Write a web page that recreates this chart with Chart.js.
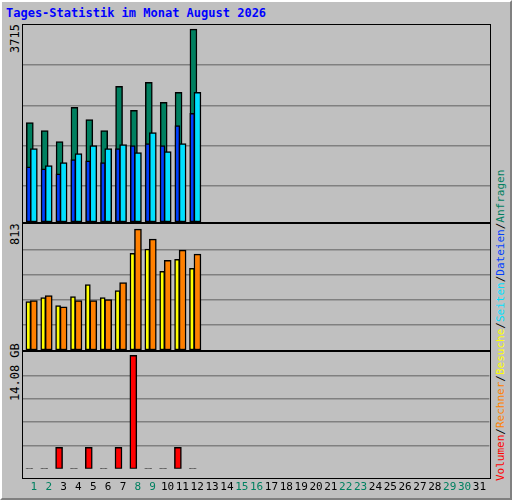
<!DOCTYPE html>
<html>
<head>
<meta charset="utf-8">
<script src="https://cdn.jsdelivr.net/npm/chart.js@4"></script>
<style>
  body { margin: 0; background: #c0c0c0; }
  #frame { position: absolute; left: 0; top: 0; width: 508px; height: 496px; background: #c0c0c0;
    border: 2px solid; border-color: #ffffff #808080 #808080 #ffffff; }
  .mono { font-family: "DejaVu Sans Mono", monospace; }
  #title { position: absolute; left: 6px; top: 6px; font-size: 12px; font-weight: bold; color: #0000ff; }
  .panel { position: absolute; left: 22px; width: 469px; border: 1px solid #000; box-sizing: border-box; }
  canvas { position: absolute; }
  .rot { position: absolute; transform: rotate(-90deg); transform-origin: left top; white-space: nowrap; font-size: 12px; }
</style>
</head>
<body>
<div id="frame"></div>
<div id="title" class="mono">Tages-Statistik im Monat August 2026</div>
<div class="panel" style="top:24px;height:199px"></div>
<div class="panel" style="top:223px;height:128px"></div>
<div class="panel" style="top:351px;height:128px"></div>
<div class="rot mono" style="left:8px;top:53px">3715</div>
<div class="rot mono" style="left:8px;top:245px">813</div>
<div class="rot mono" style="left:8px;top:401px">14.08 GB</div>
<div class="rot mono" style="left:494px;top:481px;font-size:11px">
  <span style="color:#ff0000">Volumen</span>/<span style="color:#ff8000">Rechner</span>/<span style="color:#ffff00">Besuche</span>/<span style="color:#00e0ff">Seiten</span>/<span style="color:#0040ff">Dateien</span>/<span style="color:#008060">Anfragen</span>
</div>
<canvas id="c1" style="left:23px;top:25px;width:467px;height:197px"></canvas>
<canvas id="c2" style="left:23px;top:224px;width:467px;height:126px"></canvas>
<canvas id="c3" style="left:23px;top:352px;width:467px;height:146px"></canvas>
<script>
const days = [1,2,3,4,5,6,7,8,9,10,11,12];
const allDays = Array.from({ length: 31 }, (_, i) => i + 1);
const weekend = [1,2,8,9,15,16,22,23,29,30];

const anfragen = [1916,1761,1548,2206,1974,1761,2612,2148,2690,2303,2496,3715];
const dateien  = [1064,1025,929,1200,1180,1142,1413,1471,1510,1471,1858,2090];
const seiten   = [1413,1084,1142,1316,1471,1413,1490,1335,1722,1355,1510,2496];
const besuche  = [325,352,298,359,440,352,400,650,678,529,610,549];
const rechner  = [332,366,291,332,332,339,454,813,745,603,671,644];
const volumen  = [0.02,0.02,2.65,0.02,2.65,0.02,2.65,14.08,0.02,0.02,2.65,0.02];

const xmin = 0.27, xmax = 31.67;
const pts = (vals, off) => vals.map((v, i) => ({ x: days[i] + off, y: v }));
const bar = (label, data, color, w, order) => ({
  label, data, backgroundColor: color, borderColor: "#000", borderWidth: 1.5,
  barThickness: w, grouped: false, order, borderSkipped: false,
});

function opts(ymax, gridVals, showX) {
  return {
    responsive: false, animation: false, devicePixelRatio: 1,
    layout: { padding: 0 },
    plugins: { legend: { display: false }, tooltip: { enabled: false } },
    scales: {
      x: {
        type: "linear", min: xmin, max: xmax, display: showX, offset: false,
        grid: { display: false, offset: false }, border: { display: false },
        afterBuildTicks: (s) => { s.ticks = allDays.map((v) => ({ value: v })); },
        ticks: {
          autoSkip: false, maxRotation: 0, padding: 4,
          font: { family: "DejaVu Sans Mono", size: 11 },
          color: (c) => (weekend.includes(c.tick.value) ? "#008060" : "#000"),
        },
      },
      y: {
        min: 0, max: ymax,
        afterBuildTicks: (s) => { s.ticks = gridVals.map((v) => ({ value: v })); },
        ticks: { display: false },
        grid: { color: "#808080", lineWidth: 1.5, drawTicks: false },
        border: { display: false },
      },
    },
  };
}

function make(id, w, h, datasets, ymax, gridVals, showX) {
  const el = document.getElementById(id);
  el.width = w; el.height = h;
  new Chart(el.getContext("2d"), { type: "bar", data: { datasets }, options: opts(ymax, gridVals, showX) });
}

make("c1", 467, 197, [
  bar("Anfragen", pts(anfragen, -0.27), "#008060", 7, 3),
  bar("Dateien", pts(dateien, -0.35), "#0040ff", 5, 2),
  bar("Seiten", pts(seiten, 0), "#00e0ff", 7, 1),
], 3793, [697,1471,2245,3019], false);

make("c2", 467, 126, [
  bar("Besuche", pts(besuche, -0.37), "#ffff00", 5, 2),
  bar("Rechner", pts(rechner, 0), "#ff8000", 7, 1),
], 847, [169,339,508,677], false);

make("c3", 467, 146, [
  bar("Volumen", pts(volumen, -0.3),
    volumen.map((v) => (v < 0.1 ? "#000" : "#ff0000")), 7, 1),
], 14.5, [2.9,5.8,8.7,11.6], true);
</script>
</body>
</html>
